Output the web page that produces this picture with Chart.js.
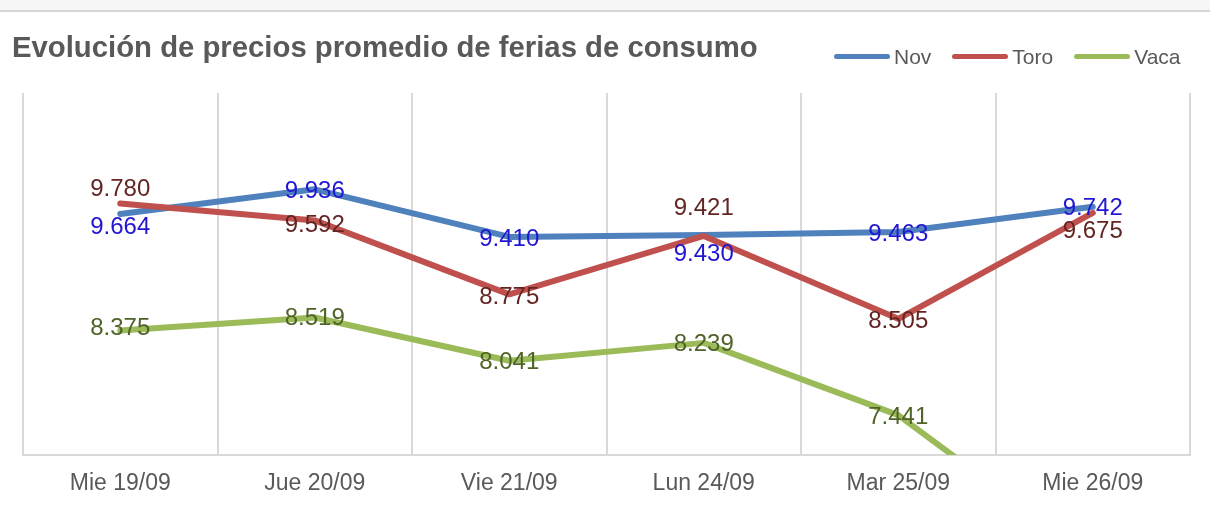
<!DOCTYPE html>
<html>
<head>
<meta charset="utf-8">
<script src="https://cdn.jsdelivr.net/npm/chart.js@4"></script>
<style>
    body { margin: 0; background: #ffffff; }
    #wrap { position: relative; width: 1210px; height: 505px; overflow: hidden; }
    #topStrip { position: absolute; left: 0; top: 0; width: 1210px; height: 10px; background: #f6f6f6; border-bottom: 2px solid #d6d6d6; }
    #title { position: absolute; left: 12px; top: 32px; font: bold 29.3px "Liberation Sans", Arial, sans-serif; line-height: 29px; color: #595959; white-space: nowrap; }
    #legend { position: absolute; left: 834px; top: 46px; display: flex; font: 21px "Liberation Sans", Arial, sans-serif; line-height: 21px; color: #595959; }
    .item { display: flex; align-items: center; margin-right: 21px; }
    .swatch { width: 56px; height: 5px; border-radius: 3px; margin-right: 4px; }
    canvas { position: absolute; left: 0; top: 0; }
</style>
</head>
<body>
<div id="wrap">
    <div id="topStrip"></div>
    <canvas id="chart" width="1210" height="505"></canvas>
    <div id="title">Evolución de precios promedio de ferias de consumo</div>
    <div id="legend"></div>
</div>
<script>
// カテゴリ（日付）
const labels = ["Mie 19/09", "Jue 20/09", "Vie 21/09", "Lun 24/09", "Mar 25/09", "Mie 26/09"];

// 系列ごとの値
const seriesNames = ["Nov", "Toro", "Vaca"];
const novValues = [9.664, 9.936, 9.410, 9.430, 9.463, 9.742];
const toroValues = [9.780, 9.592, 8.775, 9.421, 8.505, 9.675];
const vacaValues = [8.375, 8.519, 8.041, 8.239, 7.441, 5.85];

// Y軸の範囲（軸は非表示）
const yMin = 7;
const yMax = 11;

// 色
const lineColors = ["#4F81BD", "#C0504D", "#9BBB59"];
const labelColors = ["#2216D2", "#632523", "#4F6228"];

// ラベルの縦方向のずれ（px）
const novLabelDy = [13, 2, 2, 19, 2, 2];
const toroLabelDy = [-14, 5, 3, -28, 3, 18];
const vacaLabelDy = [-2, 1, 2, 2, 2, 0];
const labelDy = [novLabelDy, toroLabelDy, vacaLabelDy];

// 凡例をHTMLで作る
const legend = document.getElementById("legend");
seriesNames.forEach(function (name, i) {
    const item = document.createElement("div");
    item.className = "item";
    const sw = document.createElement("span");
    sw.className = "swatch";
    sw.style.background = lineColors[i];
    const txt = document.createElement("span");
    txt.textContent = name;
    item.appendChild(sw);
    item.appendChild(txt);
    legend.appendChild(item);
});

// データラベル描画プラグイン
const valueLabels = {
    id: "valueLabels",
    afterDatasetsDraw(chart) {
        const ctx = chart.ctx;
        const area = chart.chartArea;
        ctx.save();
        ctx.font = '24px "Liberation Sans", Arial, sans-serif';
        ctx.textAlign = "center";
        ctx.textBaseline = "middle";
        chart.data.datasets.forEach(function (ds, di) {
            const meta = chart.getDatasetMeta(di);
            ctx.fillStyle = labelColors[di];
            meta.data.forEach(function (pt, i) {
                if (pt.y < area.top || pt.y > area.bottom) return;
                ctx.fillText(ds.data[i].toFixed(3), pt.x, pt.y + labelDy[di][i]);
            });
        });
        ctx.restore();
    }
};

const allValues = [novValues, toroValues, vacaValues];
const datasets = seriesNames.map(function (name, i) {
    return {
        label: name,
        data: allValues[i],
        borderColor: lineColors[i],
        backgroundColor: lineColors[i],
        borderWidth: 6,
        pointRadius: 0,
        tension: 0,
        borderCapStyle: "round",
        borderJoinStyle: "round",
        clip: 0,
        order: 2 - i
    };
});

new Chart(document.getElementById("chart"), {
    type: "line",
    data: { labels: labels, datasets: datasets },
    options: {
        responsive: false,
        devicePixelRatio: 1,
        animation: false,
        layout: { padding: { left: 23, right: 20, top: 93, bottom: 0 } },
        plugins: {
            legend: { display: false },
            title: { display: false },
            tooltip: { enabled: false }
        },
        scales: {
            x: {
                offset: true,
                grid: { offset: true, color: "#d9d9d9", lineWidth: 2, drawTicks: false },
                border: { display: true, color: "#d9d9d9", width: 2 },
                ticks: {
                    color: "#595959",
                    padding: 15,
                    font: { family: '"Liberation Sans", Arial, sans-serif', size: 23 }
                },
                afterFit: function (scale) { scale.height = 50; }
            },
            y: {
                display: false,
                min: yMin,
                max: yMax
            }
        }
    },
    plugins: [valueLabels]
});
</script>
</body>
</html>
